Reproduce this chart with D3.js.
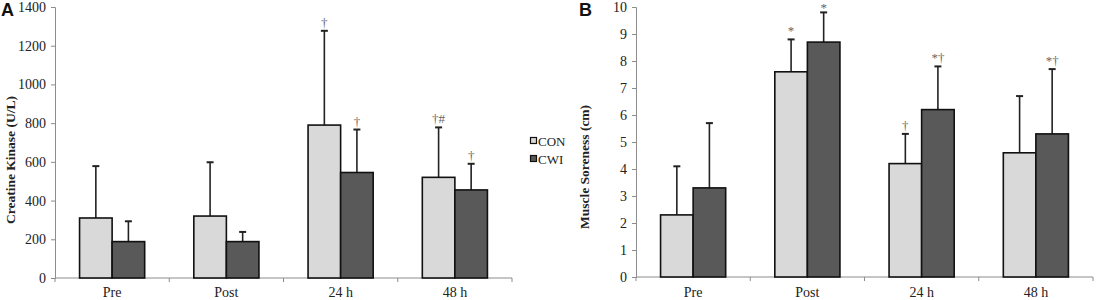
<!DOCTYPE html>
<html lang="en">
<head>
    <meta charset="UTF-8" />
    <title>CK and muscle soreness</title>
    <script src="https://d3js.org/d3.v7.min.js"></script>
    <style>
        body { margin: 0; background: #fff; }
        text { font-family: "Liberation Serif", "Times New Roman", serif; fill: #222; }
        .panel-label { font-family: "Liberation Sans", Arial, sans-serif; font-weight: bold; font-size: 18px; fill: #111; }
        .ytitle { font-weight: bold; font-size: 13.5px; }
        .mark { font-size: 13px; fill: #666; }
    </style>
</head>
<body>
    <script>
        // time points and groups
        const timepoints = ["Pre", "Post", "24 h", "48 h"];
        const groups = ["CON", "CWI"];

        // panel A: creatine kinase (U/L)
        const ckCON = [310, 320, 790, 520];
        const ckCONsd = [268, 278, 487, 258];
        const ckCWI = [188, 188, 545, 455];
        const ckCWIsd = [105, 50, 222, 135];
        const ckMarksCON = ["", "", "†", "†#"];
        const ckMarksCWI = ["", "", "†", "†"];
        const ckTicks = [0, 200, 400, 600, 800, 1000, 1200, 1400];

        // panel B: muscle soreness (cm)
        const msCON = [2.3, 7.6, 4.2, 4.6];
        const msCONsd = [1.8, 1.2, 1.1, 2.1];
        const msCWI = [3.3, 8.7, 6.2, 5.3];
        const msCWIsd = [2.4, 1.1, 1.6, 2.4];
        const msMarksCON = ["", "*", "†", ""];
        const msMarksCWI = ["", "*", "*†", "*†"];
        const msTicks = [0, 1, 2, 3, 4, 5, 6, 7, 8, 9, 10];

        const fills = { CON: "#d9d9d9", CWI: "#595959" };

        const svg = d3.select("body").append("svg")
            .attr("width", 1096).attr("height", 300);

        function panel(opt) {
            const g = svg.append("g");
            const x = d3.scaleBand().domain(timepoints).range([opt.x0, opt.x1]);
            const y = d3.scaleLinear().domain([0, opt.max]).range([opt.yBottom, 7]);
            const sub = d3.scaleBand().domain(groups)
                .range([x.bandwidth() * 0.215, x.bandwidth() * 0.785]);

            // y axis
            const yAxis = g.append("g")
                .attr("transform", `translate(${opt.x0},0)`)
                .call(d3.axisLeft(y).tickValues(opt.ticks).tickFormat(d3.format("d"))
                    .tickSize(4).tickPadding(5));
            yAxis.attr("font-family", null).attr("font-size", null);
            yAxis.selectAll("line, path").attr("stroke", "#8c8c8c");
            yAxis.selectAll("text")
                .style("font-family", '"Liberation Serif", serif')
                .style("font-size", "14px")
                .style("fill", "#222");

            // x axis with ticks at the category boundaries
            g.append("line")
                .attr("x1", opt.x0).attr("x2", opt.x1)
                .attr("y1", y(0)).attr("y2", y(0))
                .attr("stroke", "#8c8c8c");
            g.selectAll(".xb").data(d3.range(timepoints.length + 1)).enter()
                .append("line")
                .attr("x1", i => opt.x0 + i * x.step()).attr("x2", i => opt.x0 + i * x.step())
                .attr("y1", y(0)).attr("y2", y(0) + 4)
                .attr("stroke", "#8c8c8c");
            g.selectAll(".xl").data(timepoints).enter()
                .append("text")
                .attr("x", d => x(d) + x.bandwidth() / 2)
                .attr("y", 297)
                .attr("text-anchor", "middle")
                .style("font-size", "14px")
                .text(d => d);

            const rows = [];
            timepoints.forEach((t, i) => {
                groups.forEach(gr => {
                    rows.push({
                        t, gr,
                        v: opt.data[gr][i],
                        sd: opt.sd[gr][i],
                        mark: opt.marks[gr][i]
                    });
                });
            });

            // error bars (upper only)
            const cx = d => x(d.t) + sub(d.gr) + sub.bandwidth() / 2;
            g.selectAll(".err").data(rows).enter()
                .append("line")
                .attr("x1", cx).attr("x2", cx)
                .attr("y1", d => y(d.v)).attr("y2", d => y(d.v + d.sd))
                .attr("stroke", "#222").attr("stroke-width", 1.6);
            g.selectAll(".cap").data(rows).enter()
                .append("line")
                .attr("x1", d => cx(d) - 3.5).attr("x2", d => cx(d) + 3.5)
                .attr("y1", d => y(d.v + d.sd)).attr("y2", d => y(d.v + d.sd))
                .attr("stroke", "#222").attr("stroke-width", 2);

            // bars
            g.selectAll(".bar").data(rows).enter()
                .append("rect")
                .attr("x", d => x(d.t) + sub(d.gr))
                .attr("y", d => y(d.v))
                .attr("width", sub.bandwidth())
                .attr("height", d => y(0) - y(d.v))
                .attr("fill", d => fills[d.gr])
                .attr("stroke", "#111").attr("stroke-width", 1.6);

            // significance marks
            g.selectAll(".mk").data(rows.filter(d => d.mark)).enter()
                .append("text")
                .attr("class", "mark")
                .attr("x", cx)
                .attr("y", d => Math.max(y(d.v + d.sd) - 4, 12))
                .attr("text-anchor", "middle")
                .text(d => d.mark);

            // y title
            g.append("text")
                .attr("class", "ytitle")
                .attr("transform", `translate(${opt.titleX},${opt.titleY}) rotate(-90)`)
                .attr("text-anchor", "middle")
                .text(opt.title);

            g.append("text")
                .attr("class", "panel-label")
                .attr("x", opt.labelX).attr("y", 16)
                .text(opt.label);
        }

        panel({
            x0: 55, x1: 512, yBottom: 278, max: 1400, ticks: ckTicks,
            data: { CON: ckCON, CWI: ckCWI },
            sd: { CON: ckCONsd, CWI: ckCWIsd },
            marks: { CON: ckMarksCON, CWI: ckMarksCWI },
            title: "Creatine Kinase (U/L)", titleX: 15, titleY: 160,
            label: "A", labelX: 1
        });

        panel({
            x0: 636, x1: 1093, yBottom: 277, max: 10, ticks: msTicks,
            data: { CON: msCON, CWI: msCWI },
            sd: { CON: msCONsd, CWI: msCWIsd },
            marks: { CON: msMarksCON, CWI: msMarksCWI },
            title: "Muscle Soreness (cm)", titleX: 589, titleY: 167,
            label: "B", labelX: 579
        });

        // legend
        const legend = svg.append("g").attr("transform", "translate(530,0)");
        groups.forEach((gr, i) => {
            const yy = 141 + i * 18;
            legend.append("rect")
                .attr("x", 0.5).attr("y", yy - 3.5)
                .attr("width", 6).attr("height", 6)
                .attr("fill", fills[gr]).attr("stroke", "#111").attr("stroke-width", 1.2);
            legend.append("text")
                .attr("x", 8).attr("y", yy + 4.5)
                .style("font-size", "13px")
                .text(gr);
        });
    </script>
</body>
</html>
